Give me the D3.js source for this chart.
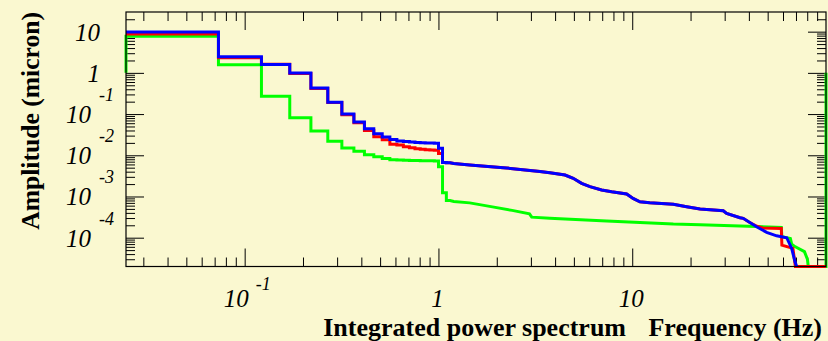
<!DOCTYPE html>
<html>
<head>
<meta charset="utf-8">
<script src="https://cdn.jsdelivr.net/npm/d3@7"></script>
<style>
  html, body { margin: 0; padding: 0; background: #faf8d0; }
  svg { display: block; }
</style>
</head>
<body>
<svg id="chart" width="828" height="341"></svg>
<script>
'use strict'

// ------ Data: integrated power spectrum, amplitude in micron ------
// FFT bins are binWidth wide, bin k is centred on k * binWidth (Hz)
const binWidth = 100 / 2048

// first 23 bins of each curve (bins 1..23)
const redBins = [8.8, 2.32, 1.62, 0.97, 0.42, 0.19, 0.096, 0.062, 0.040, 0.028,
  0.0239, 0.0185, 0.0178, 0.016, 0.0152, 0.0145, 0.014, 0.0137, 0.0135, 0.0133,
  0.0111, 0.0067, 0.0066]
const blueBins = [9.8, 2.47, 1.60, 0.99, 0.43, 0.193, 0.100, 0.064, 0.044, 0.0333,
  0.0277, 0.0241, 0.0222, 0.0215, 0.021, 0.0205, 0.0202, 0.020, 0.0198, 0.0196,
  0.0148, 0.0067, 0.0066]
const greenBins = [7.7, 1.58, 0.27, 0.081, 0.039, 0.0218, 0.015, 0.0125, 0.0103, 0.0092,
  0.0084, 0.0078, 0.0077, 0.0076, 0.0075, 0.0075, 0.0074, 0.0074, 0.0074, 0.0073,
  0.00527, 0.00123, 0.0008]

// above ~1.1 Hz the bins are too narrow to see: [Hz, micron]
const blueTail = [[1.2, 0.0063], [1.45, 0.0058], [2.16, 0.0050], [2.97, 0.0043],
  [3.34, 0.00405], [3.76, 0.00375], [4.5, 0.00332], [4.96, 0.00276], [5.48, 0.00208],
  [6.05, 0.00173], [6.95, 0.00144], [7.83, 0.0013], [9.36, 0.00115], [10.1, 0.0009],
  [10.96, 0.000746], [12.3, 0.000705], [16.3, 0.000645], [19.1, 0.000564],
  [22.4, 0.000496], [29.5, 0.000451], [30.7, 0.00039], [36, 0.000305], [37.4, 0.000295],
  [43.8, 0.000185], [49.4, 0.000135], [55.6, 0.000111], [62.7, 0.0000998],
  [66.5, 0.000055], [69.2, 0.000026], [70.6, 0.00001]]
const redTail = [[1.2, 0.0063], [1.45, 0.0058], [2.16, 0.0050], [2.97, 0.0043],
  [3.34, 0.00405], [3.76, 0.00375], [4.5, 0.00332], [4.96, 0.00276], [5.48, 0.00208],
  [6.05, 0.00173], [6.95, 0.00144], [7.83, 0.0013], [9.36, 0.00115], [10.1, 0.0009],
  [10.96, 0.000746], [12.3, 0.000705], [16.3, 0.000645], [19.1, 0.000564],
  [22.4, 0.000496], [29.5, 0.000451], [30.7, 0.00039], [36, 0.000305], [37.4, 0.000295],
  [40, 0.00024], [44, 0.00019], [47, 0.000172], [58.8, 0.000168], [59.2, 0.000066],
  [67.5, 0.000055], [69.5, 0.00001], [100, 0.00001]]
const greenTail = [[1.2, 0.00076], [1.45, 0.0007], [1.9, 0.00056], [2.4, 0.00046],
  [2.95, 0.00038], [3.03, 0.000315], [3.76, 0.000295], [4.24, 0.000288],
  [7.38, 0.000254], [16.3, 0.000214], [22.4, 0.000207], [36, 0.000192],
  [58.8, 0.000178], [59.2, 0.000105], [65.5, 0.0000955], [66.5, 0.00007],
  [69.5, 0.00006], [77.4, 0.000046], [80.2, 0.00003], [81, 0.00001],
  [100, 0.00001], [100, 1]]
// green curve starts from 1 micron at the left edge
const greenStart = 1

const xLabelTicks = [0.1, 1, 10]
const yLabelTicks = [10, 1, 0.1, 0.01, 0.001, 0.0001]

// ------ D3 setup ------
const svg = d3.select('#chart')
const frame = { left: 126, right: 826, top: 12, bottom: 266.5 }
const xMin = binWidth / 2
const xMax = 100
const yMin = 2e-5
const yMax = 30

const x = d3.scaleLog().domain([xMin, xMax]).range([frame.left, frame.right])
const y = d3.scaleLog().domain([yMin, yMax]).range([frame.bottom, frame.top])

svg.append('rect')
  .attr('width', 828).attr('height', 341)
  .attr('fill', '#faf8d0')

// ------ Ticks: minor 9px, decades 18px, all pointing inside ------
function isDecade (v) {
  return Math.abs(Math.log10(v) - Math.round(Math.log10(v))) < 1e-9
}
const xAll = x.ticks().filter(v => v > xMin && v < xMax)
const yAll = y.ticks().filter(v => v > yMin && v < yMax)
const xMinor = xAll.filter(v => !isDecade(v))
const xMajor = xAll.filter(isDecade)
const yMinor = yAll.filter(v => !isDecade(v))
const yMajor = yAll.filter(isDecade)

function drawAxis (axisFn, scale, transform) {
  [[xMinor, yMinor, 9], [xMajor, yMajor, 18]].forEach(function (set) {
    const values = scale === x ? set[0] : set[1]
    const g = svg.append('g')
      .attr('transform', transform)
      .call(axisFn(scale).tickValues(values).tickSize(-set[2]).tickFormat(''))
    g.select('.domain').remove()
    g.selectAll('line').attr('stroke', '#000').attr('stroke-width', 1)
  })
}
drawAxis(d3.axisBottom, x, `translate(0,${frame.bottom})`)
drawAxis(d3.axisTop, x, `translate(0,${frame.top})`)
drawAxis(d3.axisLeft, y, `translate(${frame.left},0)`)
drawAxis(d3.axisRight, y, `translate(${frame.right},0)`)

// ------ Curves ------
function curvePoints (bins, tail, start) {
  const pts = []
  if (start !== undefined) pts.push([xMin, start])
  bins.forEach(function (v, i) {
    const k = i + 1
    pts.push([(k - 0.5) * binWidth, v], [(k + 0.5) * binWidth, v])
  })
  return pts.concat(tail)
}

svg.append('clipPath').attr('id', 'frameClip')
  .append('rect')
  .attr('x', frame.left - 3).attr('y', frame.top - 3)
  .attr('width', frame.right - frame.left + 6)
  .attr('height', frame.bottom - frame.top + 6)

const renderPath = d3.line()
  .x(function (d) { return x(d[0]) })
  .y(function (d) { return y(Math.min(Math.max(d[1], yMin), yMax)) })

const series = [
  { color: '#00ff00', points: curvePoints(greenBins, greenTail, greenStart) },
  { color: '#ff0000', points: curvePoints(redBins, redTail) },
  { color: '#0000ff', points: curvePoints(blueBins, blueTail) }
]

svg.append('g')
  .attr('clip-path', 'url(#frameClip)')
  .selectAll('path')
  .data(series)
  .join('path')
  .attr('d', d => renderPath(d.points))
  .attr('fill', 'none')
  .attr('stroke', d => d.color)
  .attr('stroke-width', 3)
  .attr('stroke-linejoin', 'miter')

// ------ Frame ------
svg.append('rect')
  .attr('x', frame.left).attr('y', frame.top)
  .attr('width', frame.right - frame.left)
  .attr('height', frame.bottom - frame.top)
  .attr('fill', 'none')
  .attr('stroke', '#000')
  .attr('stroke-width', 1.2)

// ------ Tick labels (ROOT style 10 with exponent) ------
const labelFont = "'Liberation Serif', 'Times New Roman', Times, serif"

function exponentOf (v) { return Math.round(Math.log10(v)) }

const yl = svg.append('g')
  .style('font-family', labelFont)
  .style('font-style', 'italic')
  .attr('fill', '#000')
yLabelTicks.forEach(function (v) {
  const e = exponentOf(v)
  if (e >= 0) {
    yl.append('text')
      .attr('x', 100).attr('y', y(v) + 9)
      .attr('text-anchor', 'end')
      .style('font-size', '25px')
      .text(String(v))
  } else {
    yl.append('text')
      .attr('x', 91).attr('y', y(v) + 9)
      .attr('text-anchor', 'end')
      .style('font-size', '25px')
      .text('10')
    yl.append('text')
      .attr('x', 99).attr('y', y(v) - 13)
      .style('font-size', '18px')
      .text(String(e))
  }
})

const xl = svg.append('g')
  .style('font-family', labelFont)
  .style('font-style', 'italic')
  .attr('fill', '#000')
xLabelTicks.forEach(function (v) {
  const e = exponentOf(v)
  if (e >= 0) {
    xl.append('text')
      .attr('x', x(v) - 1).attr('y', 307)
      .attr('text-anchor', 'middle')
      .style('font-size', '25px')
      .text(String(v))
  } else {
    xl.append('text')
      .attr('x', x(v) + 4).attr('y', 307)
      .attr('text-anchor', 'end')
      .style('font-size', '25px')
      .text('10')
    xl.append('text')
      .attr('x', x(v) + 11).attr('y', 290)
      .style('font-size', '18px')
      .text(String(e))
  }
})

// ------ Titles ------
const titles = svg.append('g')
  .style('font-family', labelFont)
  .style('font-weight', 'bold')
  .style('font-size', '26px')
  .attr('fill', '#000')

titles.append('text')
  .attr('x', 822).attr('y', 336)
  .attr('text-anchor', 'end')
  .text('Frequency (Hz)')

titles.append('text')
  .attr('x', 626).attr('y', 336)
  .attr('text-anchor', 'end')
  .text('Integrated power spectrum')

titles.append('text')
  .attr('transform', 'translate(39,12) rotate(-90)')
  .attr('text-anchor', 'end')
  .style('font-size', '25.6px')
  .text('Amplitude (micron)')
</script>
</body>
</html>
